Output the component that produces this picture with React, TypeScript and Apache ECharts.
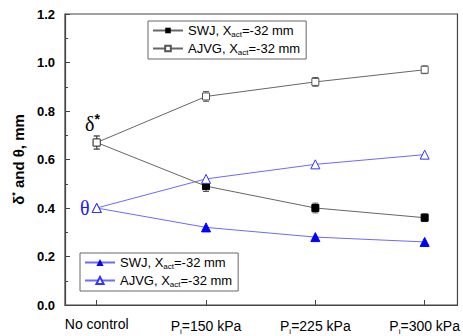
import React, { useEffect, useRef } from "react";
import * as echarts from "echarts";

const categories = ["No control", "P{s|i}=150 kPa", "P{s|i}=225 kPa", "P{s|i}=300 kPa"];
const xPos = [0, 1, 2, 3];
const swjDelta = [0.67, 0.49, 0.4, 0.36];
const swjDeltaErr = [0.027, 0.022, 0.02, 0.016];
const ajvgDelta = [0.67, 0.86, 0.92, 0.97];
const ajvgDeltaErr = [0.027, 0.02, 0.018, 0.016];
const swjTheta = [0.4, 0.32, 0.28, 0.26];
const ajvgTheta = [0.4, 0.52, 0.58, 0.62];

const FONT = "'Liberation Sans', Arial, sans-serif";
const SERIF = "'Liberation Serif', 'DejaVu Serif', serif";

export default function App() {
  const ref = useRef<HTMLDivElement>(null);
  useEffect(() => {
    const chart = echarts.init(ref.current!, null, { renderer: "svg" });
    const pts = (ys: number[]) => ys.map((y, i) => [xPos[i], y]);
    const errData = [
      ...swjDelta.map((y, i) => [xPos[i], y, swjDeltaErr[i]]),
      ...ajvgDelta.map((y, i) => [xPos[i], y, ajvgDeltaErr[i]]),
    ];
    const legendRich = {
      sub: { fontSize: 8, fontFamily: FONT, verticalAlign: "bottom", padding: [7, 0, 0, 0], color: "#000" },
      n: { fontSize: 13, fontFamily: FONT, color: "#000" },
    };
    const legendFmt = (name: string) =>
      (name.startsWith("SWJ") ? "{n|SWJ, X}" : "{n|AJVG, X}") + "{sub|act}{n|=-32 mm}";
    const option: any = {
      animation: false,
      grid: { left: 65, top: 14, width: 396, height: 291, show: true, borderColor: "#444", borderWidth: 1.2, backgroundColor: "transparent" },
      xAxis: {
        type: "value",
        min: -0.29,
        max: 3.3,
        axisLine: { show: true, onZero: false, lineStyle: { color: "#444", width: 1.2 } },
        splitLine: { show: false },
        axisTick: { show: true, inside: true, length: 5, customValues: xPos, lineStyle: { color: "#444" } },
        axisLabel: {
          customValues: xPos,
          margin: 12,
          formatter: (v: number) => categories[Math.round(v)] ?? "",
          fontFamily: FONT,
          fontSize: 14,
          color: "#000",
          rich: {
            s: { fontSize: 8, fontFamily: FONT, verticalAlign: "bottom", padding: [10, 0, 0, 0], color: "#000" },
          },
        },
      },
      yAxis: {
        type: "value",
        min: 0,
        max: 1.2,
        interval: 0.2,
        axisLine: { show: true, onZero: false, lineStyle: { color: "#444", width: 1.2 } },
        splitLine: { show: false },
        axisTick: { show: true, inside: true, length: 5, lineStyle: { color: "#444" } },
        minorTick: { show: true, splitNumber: 2, length: 3, lineStyle: { color: "#444" } },
        axisLabel: {
          formatter: (v: number) => v.toFixed(1),
          fontFamily: FONT,
          fontSize: 13,
          fontWeight: "bold",
          color: "#000",
          margin: 10,
        },
        name: "{a|δ}{sup|*}{a| and θ, mm}",
        nameLocation: "middle",
        nameRotate: 90,
        nameGap: 34,
        nameTextStyle: {
          rich: {
            a: { fontSize: 15, fontWeight: "bold", fontFamily: FONT, color: "#000" },
            sup: { fontSize: 9, fontWeight: "bold", fontFamily: FONT, color: "#000", verticalAlign: "top", padding: [0, 0, 8, 0] },
          },
        },
      },
      legend: [
        {
          data: ["SWJ_d", "AJVG_d"],
          orient: "vertical",
          left: 148,
          top: 21,
          itemWidth: 30,
          itemHeight: 7,
          itemGap: 4,
          padding: [3, 6, 3, 4],
          borderColor: "#666",
          borderWidth: 1,
          formatter: legendFmt,
          textStyle: { rich: legendRich },
        },
        {
          data: ["SWJ_t", "AJVG_t"],
          orient: "vertical",
          left: 80,
          top: 253,
          itemWidth: 30,
          itemHeight: 9,
          itemGap: 4,
          padding: [3, 6, 3, 4],
          borderColor: "#666",
          borderWidth: 1,
          formatter: legendFmt,
          textStyle: { rich: legendRich },
        },
      ],
      graphic: [
        {
          type: "text",
          left: 85,
          top: 112,
          style: {
            text: "{a|δ}{b|*}",
            rich: {
              a: { fontSize: 20, fontFamily: SERIF, fill: "#000" },
              b: { fontSize: 14, fontFamily: FONT, fontWeight: "bold", fill: "#000", verticalAlign: "top", padding: [0, 0, 10, 0] },
            },
          },
        },
        {
          type: "text",
          left: 80,
          top: 198,
          style: { text: "θ", fontSize: 20, fontFamily: SERIF, fill: "#1a1aff" },
        },
      ],
      series: [
        {
          name: "SWJ_d",
          type: "line",
          data: pts(swjDelta),
          symbol: "rect",
          symbolSize: 7,
          lineStyle: { color: "#666", width: 1 },
          itemStyle: { color: "#000", borderColor: "#000" },
          z: 3,
        },
        {
          name: "AJVG_d",
          type: "line",
          data: pts(ajvgDelta),
          symbol: "rect",
          symbolSize: 7,
          lineStyle: { color: "#666", width: 1 },
          itemStyle: { color: "#fff", borderColor: "#555", borderWidth: 1 },
          z: 3,
        },
        {
          name: "SWJ_t",
          type: "line",
          data: pts(swjTheta),
          symbol: "triangle",
          symbolSize: 9,
          lineStyle: { color: "#6b6bff", width: 1 },
          itemStyle: { color: "#0000ff", borderColor: "#0000ff" },
          z: 3,
        },
        {
          name: "AJVG_t",
          type: "line",
          data: pts(ajvgTheta),
          symbol: "triangle",
          symbolSize: 9,
          lineStyle: { color: "#6b6bff", width: 1 },
          itemStyle: { color: "#fff", borderColor: "#3333ff", borderWidth: 1 },
          z: 3,
        },
        {
          name: "err",
          type: "custom",
          data: errData,
          z: 2,
          renderItem: (params: any, api: any) => {
            const x = api.value(0);
            const y = api.value(1);
            const e = api.value(2);
            const top = api.coord([x, y + e]);
            const bot = api.coord([x, y - e]);
            const w = 3;
            const st = { stroke: "#555", lineWidth: 1 };
            return {
              type: "group",
              children: [
                { type: "line", shape: { x1: top[0], y1: top[1], x2: bot[0], y2: bot[1] }, style: st },
                { type: "line", shape: { x1: top[0] - w, y1: top[1], x2: top[0] + w, y2: top[1] }, style: st },
                { type: "line", shape: { x1: bot[0] - w, y1: bot[1], x2: bot[0] + w, y2: bot[1] }, style: st },
              ],
            };
          },
        },
      ],
    };
    chart.setOption(option);
    return () => chart.dispose();
  }, []);
  return <div ref={ref} style={{ width: 463, height: 336, position: "absolute", left: 0, top: 0, background: "#fff" }} />;
}
